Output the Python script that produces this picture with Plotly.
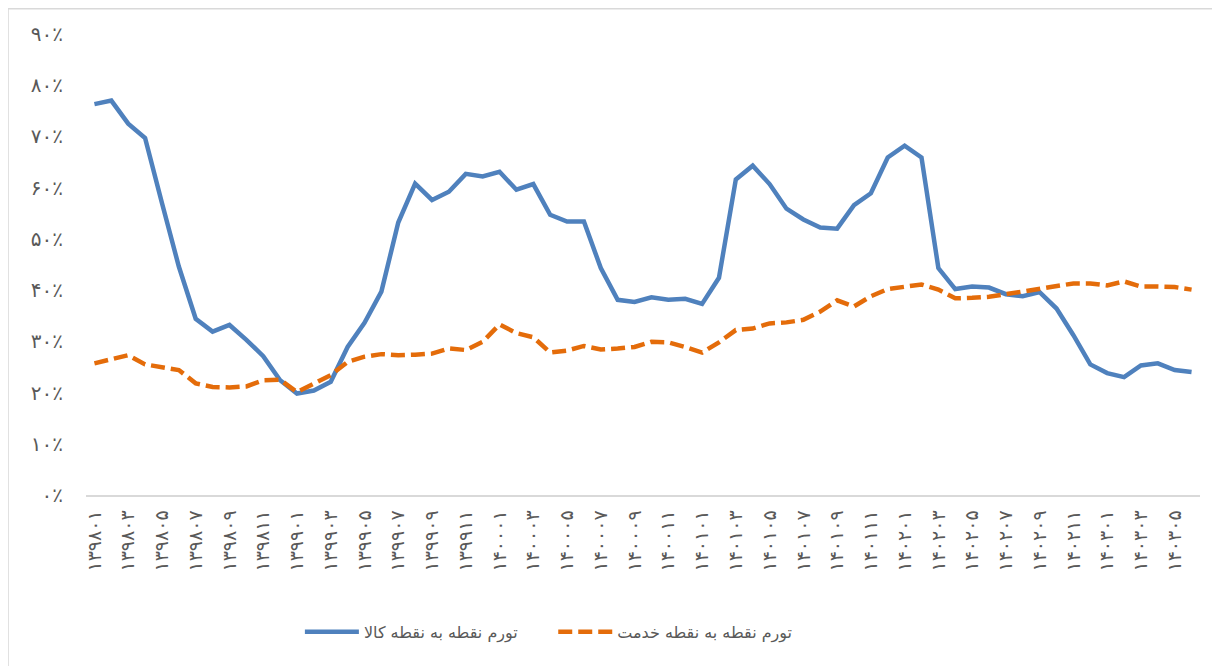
import plotly.graph_objects as go

FA = str.maketrans("0123456789", "۰۱۲۳۴۵۶۷۸۹")

# Months 139801 .. 140306
months = []
for y in range(1398, 1404):
    for m in range(1, 13):
        code = f"{y}{m:02d}"
        if code <= "140306":
            months.append(code)

goods = [76.3, 77.0, 72.5, 69.7, 57.0, 44.6, 34.4, 31.9, 33.2, 30.3,
         27.1, 22.4, 19.8, 20.4, 22.1, 28.9, 33.6, 39.7, 53.2, 60.8,
         57.6, 59.2, 62.7, 62.2, 63.1, 59.6, 60.7, 54.7, 53.4, 53.4,
         44.3, 38.1, 37.7, 38.6, 38.1, 38.3, 37.3, 42.4, 61.6, 64.3,
         60.7, 55.9, 53.8, 52.2, 52.0, 56.6, 58.9, 65.9, 68.2, 65.9,
         44.3, 40.2, 40.7, 40.5, 39.2, 38.8, 39.6, 36.4, 31.2, 25.5,
         23.8, 23.0, 25.3, 25.7, 24.4, 24.0]

services = [25.7, 26.5, 27.3, 25.5, 25.0, 24.4, 21.8, 21.1, 21.0, 21.2,
            22.4, 22.5, 20.1, 21.8, 23.4, 26.0, 27.0, 27.5, 27.3, 27.4,
            27.6, 28.6, 28.3, 29.9, 33.3, 31.6, 30.8, 27.8, 28.2, 29.1,
            28.4, 28.6, 28.9, 29.9, 29.8, 28.9, 27.8, 29.8, 32.2, 32.5,
            33.5, 33.7, 34.2, 35.8, 38.0, 36.8, 38.8, 40.2, 40.6, 41.1,
            40.1, 38.4, 38.5, 38.7, 39.2, 39.7, 40.2, 40.8, 41.3, 41.3,
            40.9, 41.7, 40.7, 40.7, 40.6, 40.1]

y_ticks = list(range(0, 91, 10))
y_ticktext = [f"{v}".translate(FA) + "٪" for v in y_ticks]
x_tickvals = months[::2]
x_ticktext = [m.translate(FA) for m in x_tickvals]

name_goods = "تورم نقطه به نقطه کالا"
name_services = "تورم نقطه به نقطه خدمت"
PAD = "\u00a0" * 6

fig = go.Figure()
fig.add_trace(go.Scatter(x=months, y=goods, mode="lines", name=name_goods + PAD,
                         line=dict(color="#4F81BD", width=4.5)))
fig.add_trace(go.Scatter(x=months, y=services, mode="lines", name=name_services,
                         line=dict(color="#E46C0A", width=4.5, dash="14px,6px")))

# page has an 8px body margin; figure sized/offset to compensate
fig.update_layout(
    width=1212, height=658,
    margin=dict(l=78, r=20, t=26, b=171, autoexpand=False),
    plot_bgcolor="white", paper_bgcolor="white",
    font=dict(family="DejaVu Sans", color="#595959"),
    showlegend=True,
    legend=dict(orientation="h", x=0.192, xanchor="left", y=-0.297, yanchor="middle",
                font=dict(size=16, color="#595959"), itemwidth=54,
                bgcolor="rgba(0,0,0,0)"),
    shapes=[dict(type="rect", xref="paper", yref="paper",
                 x0=-0.07, x1=1.2, y0=-0.6, y1=1.055,
                 line=dict(color="#D9D9D9", width=1.5), fillcolor="rgba(0,0,0,0)",
                 layer="below")],
)
fig.update_xaxes(type="category", categoryorder="array", categoryarray=months,
                 range=[-0.5, len(months) - 0.5], automargin=False,
                 tickmode="array", tickvals=x_tickvals, ticktext=x_ticktext,
                 tickangle=-90, tickfont=dict(size=19, color="#595959"),
                 showgrid=False, showline=True, linecolor="#D9D9D9", linewidth=1.5,
                 ticks="", zeroline=False, ticklabelstandoff=6)
fig.update_yaxes(range=[0, 90], tickmode="array", tickvals=y_ticks, ticktext=y_ticktext,
                 tickfont=dict(size=20, color="#595959"), automargin=False,
                 showgrid=False, showline=False, zeroline=False, ticks="", ticklabelstandoff=22)

fig.write_html("out.html")
